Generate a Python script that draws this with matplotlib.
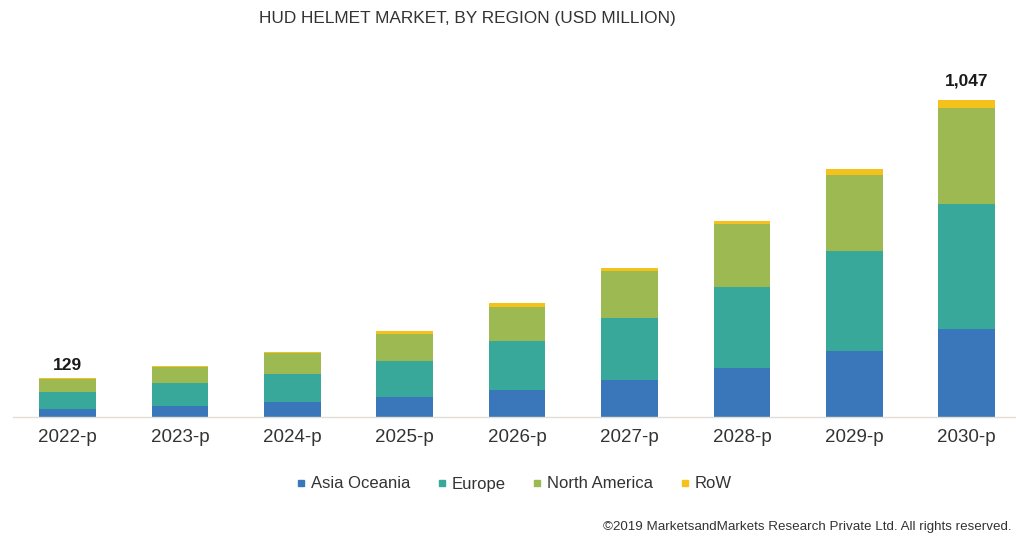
import matplotlib
matplotlib.use("Agg")
import matplotlib.pyplot as plt
import numpy as np
from matplotlib.lines import Line2D

years = ["2022-p", "2023-p", "2024-p", "2025-p", "2026-p", "2027-p", "2028-p", "2029-p", "2030-p"]
asia_oceania = [27, 37, 50, 66, 90, 123, 162, 218, 291]
europe = [57, 75, 92, 120, 160, 204, 266, 329, 414]
north_america = [42, 53, 71, 88, 114, 154, 208, 253, 317]
row = [3, 3, 3, 9, 11, 11, 12, 20, 25]
series_names = ["Asia Oceania", "Europe", "North America", "RoW"]
colors = ["#3A77BA", "#38A89A", "#9DBA52", "#F5C21B"]
label_values = {0: "129", 8: "1,047"}
label_offsets = {0: 5, 8: 11}

plt.rcParams['font.family'] = ['Liberation Sans', 'DejaVu Sans']

W, H = 1016, 538
fig = plt.figure(figsize=(W / 100, H / 100), dpi=100)
left_px, base_px, top_px = 13, 417, 60
ax = fig.add_axes([left_px / W, (H - base_px) / H, (W - left_px) / W, (base_px - top_px) / H])

x = np.arange(len(years))
data = [asia_oceania, europe, north_america, row]
bottom = np.zeros(len(years))
for vals, c, name in zip(data, colors, series_names):
    ax.bar(x, vals, width=0.505, bottom=bottom, color=c, label=name, zorder=2)
    bottom += np.array(vals)

# scale: 0.3028 px per unit
ymax = (base_px - top_px) / 0.3028
spacing = 112.4
c0 = 67.5
ax.set_xlim((left_px - c0) / spacing, (W - c0) / spacing)
ax.set_ylim(0, ymax)

for i, txt in label_values.items():
    ax.annotate(txt, (x[i], bottom[i]), xytext=(0, label_offsets[i]), textcoords="offset pixels",
                ha="center", va="bottom", fontsize=12.5, color="#1a1a1a", fontweight="semibold")

for s in ["top", "right", "left"]:
    ax.spines[s].set_visible(False)
ax.spines["bottom"].set_color("#E2DED6")
ax.spines["bottom"].set_linewidth(1.0)
ax.set_yticks([])
ax.set_xticks(x)
ax.set_xticklabels(years, fontsize=13.5, color="#333333")
ax.tick_params(axis="x", length=0, pad=9)

fig.text(467 / W, 1 - 18.5 / H, "HUD HELMET MARKET, BY REGION (USD MILLION)", ha="center", va="center",
         fontsize=12.4, color="#333333")

handles = [Line2D([0], [0], marker="s", linestyle="none", markersize=5, markerfacecolor=c,
                  markeredgecolor=c) for c in colors]
leg = fig.legend(handles, series_names, loc="center", bbox_to_anchor=(514 / W, 1 - 484 / H), ncol=4,
                 frameon=False, fontsize=12, handlelength=0.6, handletextpad=0.3, columnspacing=1.6,
                 labelcolor="#333333")

fig.text(1012 / W, 1 - 527 / H, "©2019 MarketsandMarkets Research Private Ltd. All rights reserved.",
         ha="right", va="center", fontsize=9.6, color="#333333")

fig.savefig("out.png", dpi=100)
